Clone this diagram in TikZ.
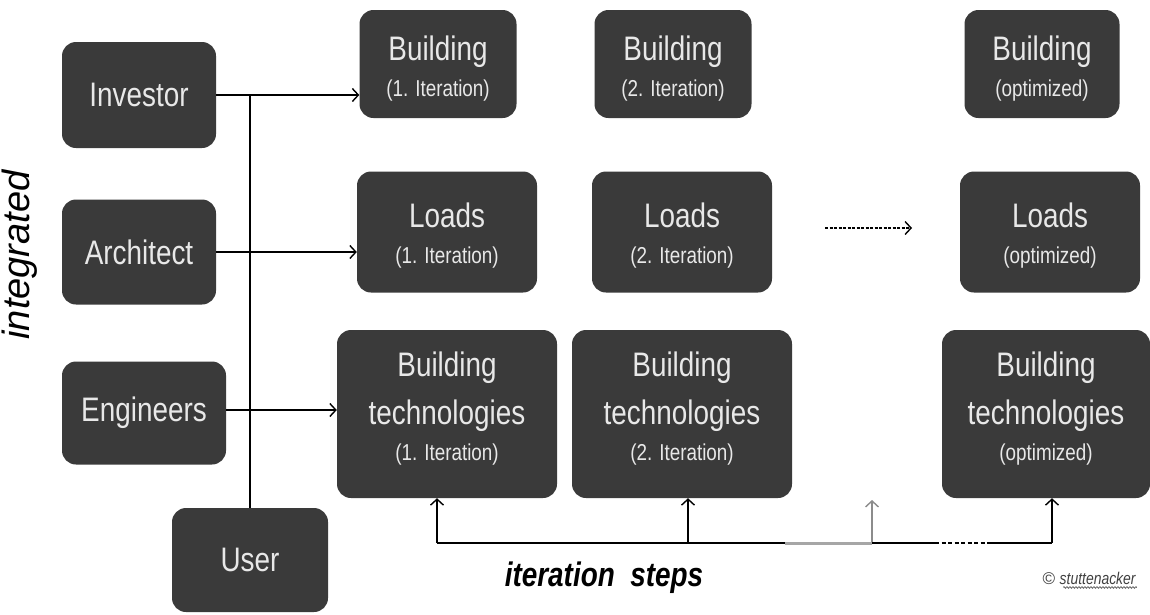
\documentclass[tikz,border=0pt]{standalone}
\usepackage{fontspec}
\setmainfont[FakeStretch=0.82]{Liberation Sans}
\newfontfamily\plainsans{Liberation Sans}
\usetikzlibrary{arrows.meta,decorations.pathmorphing}
\definecolor{boxfill}{HTML}{3A3A3A}
\definecolor{boxtext}{HTML}{E8E8E8}
\newcommand{\subln}[1]{{\fontsize{23}{26}\selectfont #1}}
\tikzset{
  boxnode/.style={fill=boxfill, rounded corners=14pt, text=boxtext, align=center,
    inner sep=0pt, font=\fontsize{34}{40}\selectfont},
  link/.style={line width=1.6pt, -{Straight Barb[length=6pt,width=13pt,line width=1.4pt]}},
  plainline/.style={line width=1.6pt},
}
\begin{document}
\begin{tikzpicture}[x=1pt,y=-1pt]
\useasboundingbox (0,0) rectangle (1150,614);
% left column
\node[boxnode, minimum width=154pt, minimum height=106pt] (inv) at (139,95) {Investor};
\node[boxnode, minimum width=154pt, minimum height=105pt] (arch) at (139,252) {Architect};
\node[boxnode, minimum width=164pt, minimum height=103pt] (eng) at (144,413) {Engineers};
\node[boxnode, minimum width=156pt, minimum height=104pt] (user) at (250,560) {User};
% building row
\node[boxnode, minimum width=157pt, minimum height=108pt] (b1) at (438,64) {\rule{0pt}{33pt}Building\\[-4pt]\subln{(1. Iteration)}};
\node[boxnode, minimum width=157pt, minimum height=108pt] (b2) at (673,64) {\rule{0pt}{33pt}Building\\[-4pt]\subln{(2. Iteration)}};
\node[boxnode, minimum width=155pt, minimum height=108pt] (b3) at (1042,64) {\rule{0pt}{33pt}Building\\[-4pt]\subln{(optimized)}};
% loads row
\node[boxnode, minimum width=180pt, minimum height=121pt] (l1) at (447,232) {\rule{0pt}{31pt}Loads\\[-4pt]\subln{(1. Iteration)}};
\node[boxnode, minimum width=180pt, minimum height=121pt] (l2) at (682,232) {\rule{0pt}{31pt}Loads\\[-4pt]\subln{(2. Iteration)}};
\node[boxnode, minimum width=180pt, minimum height=121pt] (l3) at (1050,232) {\rule{0pt}{31pt}Loads\\[-4pt]\subln{(optimized)}};
% building technologies row
\node[boxnode, minimum width=220pt, minimum height=168pt] (t1) at (447,414) {Building\\[8pt]technologies\\[-4pt]\subln{(1. Iteration)\rule[-15pt]{0pt}{1pt}}};
\node[boxnode, minimum width=220pt, minimum height=168pt] (t2) at (682,414) {Building\\[8pt]technologies\\[-4pt]\subln{(2. Iteration)\rule[-15pt]{0pt}{1pt}}};
\node[boxnode, minimum width=208pt, minimum height=168pt] (t3) at (1046,414) {Building\\[8pt]technologies\\[-4pt]\subln{(optimized)\rule[-15pt]{0pt}{1pt}}};
% input connectors
\draw[plainline] (inv.east -| user.north) -- (user.north);
\draw[link] (inv.east) -- (inv.east -| b1.west);
\draw[link] (arch.east |- 0,252) coordinate (ae) -- (ae -| l1.west);
\draw[link] (eng.east |- 0,410) coordinate (ee) -- (ee -| t1.west);
% dashed arrow between loads
\coordinate (da) at (825,228);
\coordinate (db) at (912,228);
\draw[link, dashed, dash pattern=on 3pt off 1.5pt] (da) -- (db);
% iteration steps
\coordinate (s1) at (437,543);
\coordinate (s2) at (688,543);
\coordinate (s3) at (872,543);
\coordinate (s4) at (1052,543);
\coordinate (g1) at (785,543);
\coordinate (d1) at (935,543);
\coordinate (d2) at (990,543);
\draw[link] (s1) -- (s1 |- t1.south);
\draw[link] (s2) -- (s2 |- t2.south);
\draw[link, draw=gray!90] (s3) -- (872,500);
\draw[link] (s4) -- (s4 |- t3.south);
\draw[plainline] (s1) -- (g1);
\draw[line width=3pt, gray!70] (g1) -- (s3);
\draw[plainline] (s3) -- (d1);
\draw[plainline, dash pattern=on 4pt off 2.5pt, line width=2.4pt] (d1) -- (d2);
\draw[plainline] (d2) -- (s4);
% labels
\node[font=\bfseries\itshape\fontsize{34}{38}\selectfont] (steps) at (604,578) {iteration\ \ steps};
\node[font=\plainsans\itshape\fontsize{38}{42}\selectfont, rotate=90] (integ) at (20,255) {integrated};
\node[font=\itshape\fontsize{17}{19}\selectfont, text=black!75, inner sep=1pt] (copy) at (1089,578) {\plainsans\char"00A9\ \fontspec[FakeStretch=0.82]{Liberation Sans}\itshape stuttenacker};
\draw[black!60, line width=0.8pt, decorate, decoration={zigzag, amplitude=0.8pt, segment length=3pt}]
  ([xshift=22pt,yshift=-2pt]copy.south west) -- ([yshift=-2pt]copy.south east);
\end{tikzpicture}
\end{document}
